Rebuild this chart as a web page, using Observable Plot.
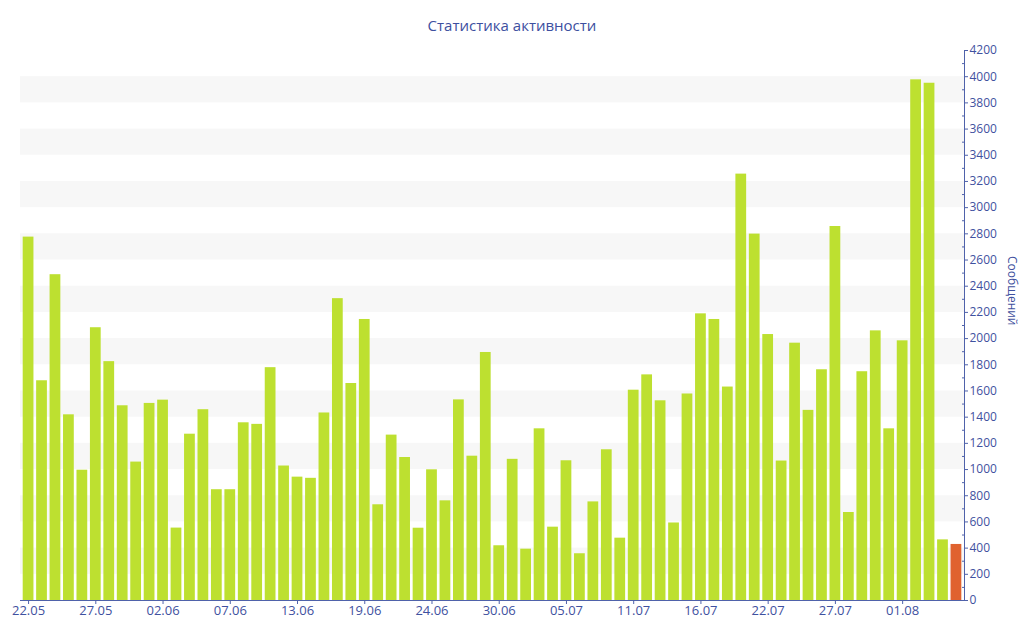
<!DOCTYPE html>
<html><head><meta charset="utf-8">
<script src="https://cdn.jsdelivr.net/npm/d3@7"></script>
<script src="https://cdn.jsdelivr.net/npm/@observablehq/plot@0.6"></script>
<style>
html,body{margin:0;padding:0;background:#fff;}
#title{height:40px;box-sizing:border-box;padding-top:14px;line-height:22px;text-align:center;font-family:"Open Sans";font-size:15px;color:#3d4f9f;}
#chart svg{display:block;}
</style></head><body>
<div id="title">Статистика активности</div>
<div id="chart"></div>
<script>
// daily message counts, one bar per day (first bar = 22.05)
const values = [
  2775, 1678, 2488, 1418, 995, 2083, 1824, 1487, 1057, 1505,
  1530, 553, 1270, 1457, 846, 846, 1357, 1345, 1778, 1027,
  942, 933, 1432, 2305, 1657, 2146, 731, 1263, 1092, 552,
  998, 761, 1532, 1102, 1894, 418, 1078, 392, 1311, 560,
  1067, 357, 753, 1151, 476, 1606, 1723, 1525, 592, 1577,
  2189, 2146, 1630, 3256, 2798, 2031, 1065, 1965, 1452, 1762,
  2856, 672, 1747, 2059, 1311, 1983, 3976, 3950, 463, 428
];
// labels shown under every 5th bar
const tickLabels = ["22.05","27.05","02.06","07.06","13.06","19.06","24.06","30.06","05.07","11.07","16.07","22.07","27.07","01.08"];
const tickStep = 5;
const yMax = 4200;
const yMajor = d3.range(0, yMax + 1, 200);
const yMinor = d3.range(100, yMax, 200);
const stripeStarts = d3.range(200, 4000, 400);
const yTitle = "Сообщений";

const barColor = "#bde030";
const lastColor = "#e0622f";
const axisColor = "#4f62aa";
const textColor = "#3f51a0";

const rows = values.map((v, i) => ({i, v, last: i === values.length - 1}));
const stripes = stripeStarts.map(s => ({lo: s, hi: s + 200}));
const xTicks = tickLabels.map((_, k) => k * tickStep);

const plot = Plot.plot({
  width: 1024,
  height: 600,
  marginTop: 10,
  marginBottom: 40,
  marginLeft: 20,
  marginRight: 60,
  style: {fontFamily: "Open Sans", fontSize: "12px", color: textColor, background: "#fff", overflow: "visible"},
  x: {type: "band", domain: rows.map(d => d.i), padding: 0.2, axis: null, label: null},
  y: {domain: [0, yMax], axis: null, label: null},
  marks: [
    Plot.rect(stripes, {y1: "lo", y2: "hi", fill: "#f7f7f7"}),
    Plot.barY(rows.filter(d => !d.last), {x: "i", y: "v", fill: barColor}),
    Plot.barY(rows.filter(d => d.last), {x: "i", y: "v", fill: lastColor}),
    Plot.frame({anchor: "bottom", stroke: axisColor}),
    Plot.frame({anchor: "right", stroke: axisColor}),
    Plot.axisX(xTicks, {anchor: "bottom", tickSize: 4, tickPadding: 1, label: null, fontSize: 13,
      stroke: axisColor, fill: textColor, tickFormat: i => tickLabels[i / tickStep]}),
    Plot.axisY(yMajor, {anchor: "right", tickSize: 3, tickPadding: 2, label: null,
      stroke: axisColor, fill: textColor, tickFormat: d => String(d)}),
    Plot.axisY(yMinor, {anchor: "right", tickSize: 3, dx: -3, label: null,
      stroke: axisColor, tickFormat: () => ""}),
    Plot.text([yTitle], {frameAnchor: "right", dx: 47, rotate: 90, fontSize: 12, fill: textColor})
  ]
});
document.getElementById("chart").appendChild(plot);
</script>
</body></html>
